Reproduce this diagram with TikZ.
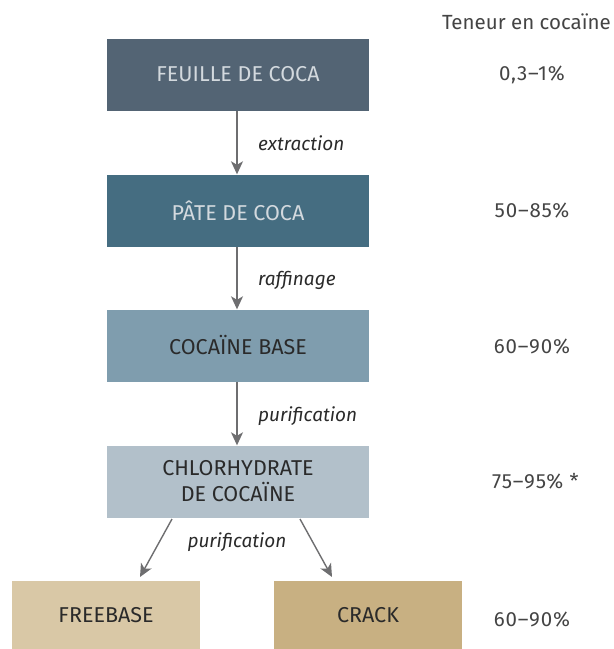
\documentclass[tikz,border=0pt]{standalone}
\usepackage{fontspec}
\setmainfont{Fira Sans}
\newfontfamily\numfont{Fira Sans}[LetterSpace=4]
\usetikzlibrary{arrows.meta}
\definecolor{cA}{HTML}{536474}
\definecolor{cB}{HTML}{456D81}
\definecolor{cC}{HTML}{7F9DAE}
\definecolor{cD}{HTML}{B2C0CA}
\definecolor{cE}{HTML}{D9C8A6}
\definecolor{cF}{HTML}{C8B082}
\definecolor{lightT}{HTML}{D3D9DE}
\definecolor{darkT}{HTML}{2A2A2A}
\definecolor{valT}{HTML}{444444}
\definecolor{arr}{HTML}{6E6E70}
\begin{document}
\begin{tikzpicture}[x=1pt,y=-1pt,
  box/.style={minimum width=262pt,minimum height=72pt,inner sep=0pt,align=center,font=\fontsize{21.5}{26}\selectfont},
  sbox/.style={minimum width=188pt,minimum height=68pt,inner sep=0pt,align=center,font=\fontsize{21.5}{26}\selectfont,text=darkT},
  lab/.style={font=\fontsize{19}{22}\selectfont\itshape,text=darkT,inner sep=0pt},
  val/.style={font=\fontsize{20.5}{22}\selectfont\numfont,text=valT,inner sep=0pt},
  flow/.style={draw=arr,line width=1.4pt,-{Stealth[length=13pt,width=12pt,inset=3.5pt]}}]
\useasboundingbox (0,0) rectangle (614,649);
\node[box,fill=cA,text=lightT] (feuille) at (238,74.5) {FEUILLE DE COCA};
\node[box,fill=cB,text=lightT] (pate) at (238,210.5) {PÂTE DE COCA};
\node[box,fill=cC,text=darkT] (base) at (238,345.5) {COCAÏNE BASE};
\node[box,fill=cD,text=darkT] (chlor) at (238,481.5) {CHLORHYDRATE\\DE COCAÏNE};
\node[sbox,fill=cE] (free) at (106,615) {FREEBASE};
\node[sbox,fill=cF] (crack) at (368,615) {CRACK};
\coordinate (c1) at (172,519);
\coordinate (c2) at (300,519);
\draw[flow] (feuille.south -| 237,0) -- (pate.north -| 237,0);
\draw[flow] (pate.south -| 237,0) -- (base.north -| 237,0);
\draw[flow] (base.south -| 237,0) -- (chlor.north -| 237,0);
\draw[flow] (c1) -- (140,577);
\draw[flow] (c2) -- (332,577);
\node[lab,anchor=west] (l1) at (258,143) {extraction};
\node[lab,anchor=west] (l2) at (258,280) {raffinage};
\node[lab,anchor=west] (l3) at (258,416) {purification};
\node[lab] (l4) at (237,542) {purification};
\node[val,anchor=east,font=\fontsize{20.5}{22}\selectfont] (h) at (611,22) {Teneur en cocaïne};
\node[val] (v1) at (532,75) {0,3–1\%};
\node[val] (v2) at (532,211) {50–85\%};
\node[val] (v3) at (532,347) {60–90\%};
\node[val,anchor=west] (v4) at (492,481) {75–95\% *};
\node[val] (v5) at (532,620) {60–90\%};
\end{tikzpicture}
\end{document}
